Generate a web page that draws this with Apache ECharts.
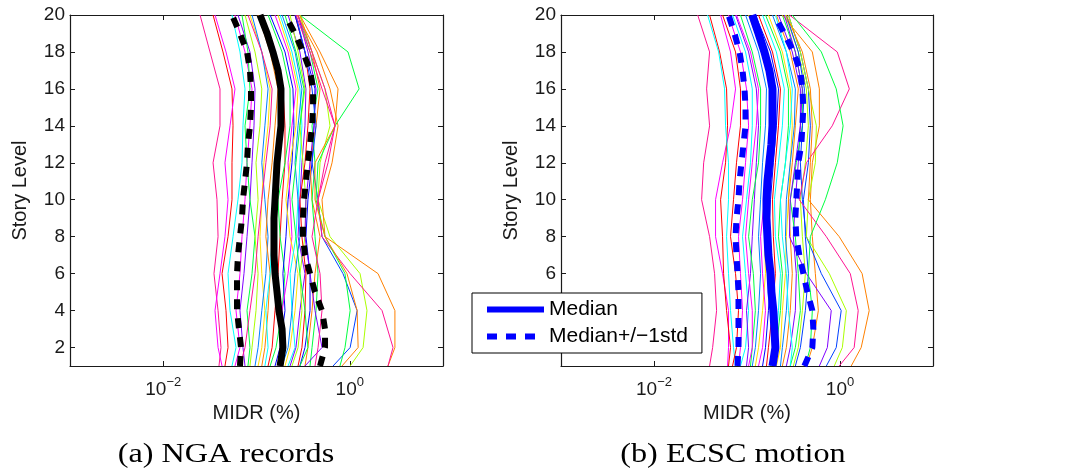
<!DOCTYPE html>
<html>
<head>
<meta charset="utf-8">
<script src="https://cdn.jsdelivr.net/npm/echarts@6/dist/echarts.min.js"></script>
<style>
html,body{margin:0;padding:0;background:#fff;}
#chart{width:1090px;height:473px;}
</style>
</head>
<body>
<div id="chart"></div>
<script>
// ---------- DATA ----------
const storiesAll = [1,2,3,4,5,6,7,8,9,10,11,12,13,14,15,16,17,18,19,20];
const storiesRec = [1,2,4,6,8,10,12,14,16,18,20];
const xTickValues = [0.01, 1];
const yTickValues = [2,4,6,8,10,12,14,16,18,20];

const panelTitles = ['(a) NGA records', '(b) ECSC motion'];
const legendNames = ['Median', 'Median+/\u22121std'];

// (a) NGA records: MIDR (%) per record at storiesRec
const ngaRecords = [
 [0.0396,0.0416,0.0387,0.0350,0.0387,0.0377,0.0342,0.0406,0.0406,0.0317,0.0248],
 [0.0459,0.0495,0.0471,0.0427,0.0495,0.0546,0.0546,0.0560,0.0546,0.0437,0.0342],
 [0.0427,0.0387,0.0359,0.0406,0.0459,0.0495,0.0459,0.0520,0.0588,0.0471,0.0359],
 [0.0546,0.0603,0.0520,0.0495,0.0560,0.0633,0.0699,0.0716,0.0753,0.0665,0.0546],
 [0.0588,0.0665,0.0603,0.0665,0.0699,0.0753,0.0791,0.0851,0.0895,0.0753,0.0588],
 [0.0753,0.0716,0.0665,0.0734,0.0791,0.0851,0.0895,0.0940,0.0964,0.0851,0.0633],
 [0.0810,0.0851,0.0791,0.0895,0.0964,0.0851,0.0791,0.0753,0.0851,0.0810,0.0699],
 [0.0851,0.0895,0.0988,0.104,0.0964,0.104,0.0988,0.109,0.114,0.0964,0.0753],
 [0.104,0.114,0.123,0.114,0.109,0.114,0.120,0.133,0.140,0.114,0.0851],
 [0.0964,0.104,0.114,0.126,0.133,0.123,0.114,0.123,0.133,0.114,0.0895],
 [0.114,0.123,0.133,0.140,0.126,0.133,0.147,0.158,0.170,0.140,0.104],
 [0.123,0.133,0.126,0.140,0.147,0.158,0.170,0.179,0.188,0.158,0.114],
 [0.133,0.147,0.158,0.170,0.179,0.188,0.202,0.202,0.192,0.158,0.114],
 [0.140,0.162,0.188,0.202,0.179,0.170,0.202,0.229,0.229,0.188,0.133],
 [0.158,0.179,0.202,0.192,0.207,0.218,0.240,0.252,0.246,0.202,0.140],
 [0.170,0.202,0.188,0.218,0.240,0.229,0.218,0.240,0.265,0.218,0.158],
 [0.202,0.229,0.259,0.279,0.229,0.207,0.229,0.265,0.279,0.229,0.170],
 [0.218,0.259,0.240,0.229,0.265,0.279,0.292,0.307,0.292,0.240,0.179],
 [0.229,0.265,0.292,0.331,0.279,0.292,0.307,0.331,0.339,0.292,0.218],
 [0.240,0.279,0.307,0.292,0.331,0.339,0.315,0.292,0.331,0.279,0.229],
 [0.279,0.307,0.331,0.339,0.307,0.292,0.331,0.356,0.375,0.331,0.259],
 [0.292,0.331,0.375,0.375,0.339,0.356,0.394,0.414,0.424,0.331,0.259],
 [0.331,0.356,0.394,0.424,0.480,0.394,0.375,0.435,0.480,0.394,0.292],
 [0.375,0.394,0.435,0.457,0.424,0.394,0.424,0.394,0.457,0.375,0.279],
 [0.331,0.504,0.424,0.375,0.331,0.339,0.375,0.414,0.435,0.356,0.279],
 [0.662,1.01,1.20,0.846,0.504,0.457,0.394,0.435,0.394,0.331,0.265],
 [1.01,1.39,1.53,1.29,0.614,0.457,0.480,0.614,0.543,0.394,0.292],
 [2.57,3.05,3.05,2.01,0.543,0.504,0.646,0.749,0.614,0.446,0.272],
 [2.57,2.91,2.22,1.01,0.504,0.457,0.543,0.695,0.504,0.375,0.265],
 [0.785,0.889,1.01,0.889,0.543,0.435,0.457,0.695,1.26,0.957,0.292],
 [0.825,1.23,1.20,0.934,0.543,0.424,0.424,0.695,0.749,0.480,0.292],
 [0.424,0.457,0.504,0.480,0.394,0.457,0.585,0.695,0.543,0.394,0.279],
 [0.188,0.218,0.240,0.259,0.292,0.279,0.259,0.279,0.307,0.259,0.188],
 [0.0665,0.0753,0.0851,0.0964,0.104,0.114,0.126,0.140,0.147,0.114,0.0810],
 [0.292,0.356,0.331,0.292,0.265,0.240,0.265,0.292,0.323,0.265,0.202]
];
const ngaColors = ['#ff1493','#ff0000','#ff00ff','#00ffff','#ff00ff','#8000ff','#00ff40','#aaff00','#ffe000','#0080ff',
 '#ff8000','#00ffff','#ff0000','#00ff40','#0000ff','#ff00ff','#ffe000','#00ffff','#8000ff','#aaff00',
 '#ff0000','#0000ff','#ff8000','#00ff40','#8000ff','#0040ff','#aaff00','#ff8000','#ff1493','#00ff40',
 '#ff8000','#ff1493','#0080ff','#ff1493','#00ff40'];
const ngaMedian = [0.179,0.192,0.188,0.174,0.166,0.158,0.154,0.154,0.154,0.158,0.162,0.166,0.174,0.183,0.183,0.183,0.170,0.150,0.130,0.109];
const ngaMinus  = [0.0665,0.0682,0.0649,0.0618,0.0618,0.0618,0.0633,0.0665,0.0699,0.0716,0.0753,0.0791,0.0810,0.0851,0.0873,0.0873,0.0851,0.0791,0.0665,0.0546];
const ngaPlus   = [0.480,0.543,0.543,0.504,0.424,0.375,0.331,0.315,0.315,0.323,0.339,0.356,0.375,0.394,0.404,0.404,0.375,0.315,0.259,0.202];

// (b) ECSC motion
const ecscRecords = [
 [0.0396,0.0427,0.0471,0.0448,0.0396,0.0325,0.0342,0.0396,0.0368,0.0396,0.0295],
 [0.0618,0.0633,0.0633,0.0546,0.0459,0.0459,0.0546,0.0665,0.0753,0.0665,0.0520],
 [0.0633,0.0665,0.0603,0.0560,0.0546,0.0520,0.0588,0.0618,0.0603,0.0507,0.0396],
 [0.0753,0.0716,0.0665,0.0633,0.0603,0.0633,0.0633,0.0588,0.0574,0.0495,0.0377],
 [0.0699,0.0771,0.0810,0.0753,0.0665,0.0716,0.0771,0.0851,0.0851,0.0753,0.0546],
 [0.0810,0.0851,0.0895,0.0851,0.0810,0.0895,0.0964,0.104,0.0988,0.0851,0.0633],
 [0.0851,0.0964,0.104,0.0964,0.0895,0.0988,0.109,0.114,0.114,0.0964,0.0699],
 [0.0988,0.104,0.0988,0.109,0.114,0.120,0.126,0.133,0.126,0.104,0.0753],
 [0.109,0.114,0.123,0.117,0.104,0.114,0.133,0.140,0.140,0.114,0.0851],
 [0.114,0.123,0.133,0.140,0.133,0.140,0.147,0.158,0.162,0.133,0.0964],
 [0.123,0.133,0.147,0.158,0.154,0.162,0.170,0.179,0.188,0.147,0.104],
 [0.133,0.147,0.158,0.147,0.140,0.154,0.170,0.188,0.202,0.162,0.114],
 [0.147,0.158,0.170,0.179,0.170,0.179,0.192,0.207,0.218,0.179,0.123],
 [0.162,0.170,0.188,0.202,0.192,0.188,0.202,0.218,0.229,0.188,0.133],
 [0.179,0.202,0.218,0.229,0.202,0.197,0.218,0.240,0.252,0.207,0.147],
 [0.188,0.207,0.229,0.240,0.218,0.229,0.259,0.279,0.279,0.229,0.158],
 [0.207,0.229,0.240,0.259,0.265,0.279,0.292,0.307,0.292,0.240,0.170],
 [0.229,0.240,0.265,0.279,0.259,0.265,0.292,0.323,0.331,0.265,0.188],
 [0.240,0.265,0.292,0.307,0.292,0.279,0.307,0.331,0.356,0.292,0.207],
 [0.265,0.292,0.331,0.339,0.315,0.331,0.356,0.375,0.375,0.307,0.218],
 [0.292,0.331,0.375,0.356,0.331,0.292,0.339,0.394,0.394,0.331,0.240],
 [0.315,0.356,0.394,0.424,0.394,0.375,0.424,0.457,0.435,0.356,0.259],
 [0.331,0.375,0.424,0.457,0.424,0.404,0.457,0.480,0.457,0.375,0.279],
 [0.435,0.504,0.585,0.543,0.504,0.480,0.504,0.600,0.600,0.504,0.240],
 [0.600,0.731,0.805,0.435,0.286,0.292,0.331,0.375,0.394,0.331,0.252],
 [0.713,0.911,1.03,0.630,0.435,0.394,0.375,0.394,0.414,0.356,0.265],
 [0.867,1.06,1.17,0.768,0.435,0.457,0.543,0.557,0.457,0.375,0.279],
 [0.981,1.42,1.57,1.29,0.713,0.365,0.435,0.825,1.26,0.934,0.286],
 [1.32,1.69,2.06,1.73,0.981,0.457,0.480,0.504,0.480,0.394,0.265],
 [0.424,0.480,0.504,0.457,0.480,0.695,0.934,1.08,0.911,0.630,0.307],
 [0.292,0.307,0.279,0.265,0.240,0.229,0.259,0.292,0.307,0.265,0.202],
 [0.104,0.114,0.114,0.104,0.0964,0.104,0.114,0.126,0.133,0.109,0.0771]
];
const ecscColors = ['#ff1493','#ff00ff','#ff0000','#00ffff','#ff0000','#ff00ff','#00ffff','#8000ff','#00ff40','#0080ff',
 '#ffe000','#ff00ff','#0000ff','#ff0000','#00ffff','#00ff40','#ffe000','#0080ff','#ff8000','#8000ff',
 '#00ff40','#aaff00','#0040ff','#ff8000','#8000ff','#0040ff','#aaff00','#ff1493','#ff8000','#00ff40',
 '#00ffff','#ff00ff'];
const ecscMedian = [0.188,0.202,0.197,0.192,0.183,0.179,0.170,0.166,0.162,0.162,0.166,0.174,0.183,0.188,0.188,0.188,0.174,0.154,0.133,0.114];
const ecscMinus  = [0.0791,0.0810,0.0810,0.0810,0.0810,0.0791,0.0771,0.0753,0.0771,0.0810,0.0831,0.0873,0.0917,0.0964,0.0964,0.0940,0.0895,0.0831,0.0734,0.0633];
const ecscPlus   = [0.414,0.504,0.517,0.504,0.446,0.404,0.365,0.339,0.331,0.339,0.348,0.356,0.384,0.394,0.404,0.394,0.375,0.315,0.252,0.197];

// ---------- CHART ----------
const FONT = '"Liberation Sans", Arial, sans-serif';
const chart = echarts.init(document.getElementById('chart'), null, {renderer: 'canvas'});

function pairs(vals, ys) { return vals.map((v, k) => [v, ys[k]]); }

function xAxes(grid) {
  const base = {
    gridIndex: grid, type: 'log', logBase: 10, min: 0.001, max: 10,
    splitLine: {show: false}, minorTick: {show: false}, minorSplitLine: {show: false},
    axisLine: {show: true, onZero: false, lineStyle: {color: '#1a1a1a', width: 1.2}},
    axisTick: {show: true, inside: true, length: 5, customValues: xTickValues, lineStyle: {color: '#1a1a1a'}}
  };
  return [
    Object.assign({}, base, {
      position: 'bottom',
      name: 'MIDR (%)', nameLocation: 'middle', nameGap: 37,
      nameTextStyle: {fontFamily: FONT, fontSize: 20, color: '#1a1a1a'},
      axisLabel: {
        show: true, customValues: xTickValues, margin: 10, color: '#1a1a1a',
        formatter: function (v) {
          const e = Math.round(Math.log10(v));
          return '{b|10}{s|' + String(e).replace('-', '\u2212') + '}';
        },
        rich: {
          b: {fontFamily: FONT, fontSize: 19, lineHeight: 23, verticalAlign: 'bottom', color: '#1a1a1a'},
          s: {fontFamily: FONT, fontSize: 13, lineHeight: 13, verticalAlign: 'top', color: '#1a1a1a'}
        }
      }
    }),
    Object.assign({}, base, {position: 'top', axisLabel: {show: false}})
  ];
}
function yAxes(grid) {
  const base = {
    gridIndex: grid, type: 'value', min: 1, max: 20,
    splitLine: {show: false},
    axisLine: {show: true, onZero: false, lineStyle: {color: '#1a1a1a', width: 1.2}},
    axisTick: {show: true, inside: true, length: 5, customValues: yTickValues, lineStyle: {color: '#1a1a1a'}}
  };
  return [
    Object.assign({}, base, {
      position: 'left',
      name: 'Story Level', nameLocation: 'middle', nameGap: 40,
      nameTextStyle: {fontFamily: FONT, fontSize: 20, color: '#1a1a1a'},
      axisLabel: {show: true, customValues: yTickValues, margin: 5, fontFamily: FONT, fontSize: 19, color: '#1a1a1a'}
    }),
    Object.assign({}, base, {position: 'right', axisLabel: {show: false}})
  ];
}

function recordSeries(records, colors, xi, yi) {
  return records.map((r, i) => ({
    type: 'line', xAxisIndex: xi, yAxisIndex: yi, name: 'rec' + xi + '_' + i,
    data: pairs(r, storiesRec), symbol: 'none', silent: true, z: 2,
    lineStyle: {color: colors[i], width: 1}
  }));
}
function statSeries(name, vals, color, dashed, width, xi, yi) {
  return {
    type: 'line', xAxisIndex: xi, yAxisIndex: yi, name: name,
    data: pairs(vals, storiesAll), symbol: 'none', silent: true, z: 5,
    itemStyle: {color: color},
    lineStyle: {color: color, width: width, type: dashed ? [10, 9] : 'solid', cap: 'butt'}
  };
}

const series = [].concat(
  recordSeries(ngaRecords, ngaColors, 0, 0),
  [statSeries('NGA median', ngaMedian, '#000', false, 7, 0, 0),
   statSeries('NGA minus', ngaMinus, '#000', true, 6, 0, 0),
   statSeries('NGA plus', ngaPlus, '#000', true, 6, 0, 0)],
  recordSeries(ecscRecords, ecscColors, 2, 2),
  [statSeries(legendNames[0], ecscMedian, '#0000ff', false, 8, 2, 2),
   statSeries(legendNames[1], ecscMinus, '#0000ff', true, 6, 2, 2),
   statSeries(legendNames[1], ecscPlus, '#0000ff', true, 6, 2, 2)]
);

const option = {
  animation: false,
  backgroundColor: '#fff',
  grid: [
    {left: 70, top: 15, width: 373, height: 351, outerBoundsMode: 'none', containLabel: false},
    {left: 561, top: 15, width: 372, height: 351, outerBoundsMode: 'none', containLabel: false}
  ],
  xAxis: [].concat(xAxes(0), xAxes(1)),
  yAxis: [].concat(yAxes(0), yAxes(1)),
  legend: {
    show: true, data: legendNames, orient: 'vertical', left: 472, top: 293,
    selectedMode: false, itemWidth: 57, itemHeight: 14, itemGap: 6,
    padding: [6, 14, 6, 12], borderColor: '#000', borderWidth: 1, backgroundColor: '#fff',
    textStyle: {fontFamily: FONT, fontSize: 21, color: '#000'},
    itemStyle: {opacity: 0},
    lineStyle: {width: 6},
    z: 10
  },
  graphic: [
    {type: 'text', x: 226, y: 455, scaleX: 1.15, z: 10,
     style: {text: panelTitles[0], font: '28px "Liberation Serif", "Times New Roman", serif', fill: '#000', textAlign: 'center', textVerticalAlign: 'middle'}},
    {type: 'text', x: 733, y: 455, scaleX: 1.15, z: 10,
     style: {text: panelTitles[1], font: '28px "Liberation Serif", "Times New Roman", serif', fill: '#000', textAlign: 'center', textVerticalAlign: 'middle'}}
  ],
  series: series
};
chart.setOption(option);
</script>
</body>
</html>
